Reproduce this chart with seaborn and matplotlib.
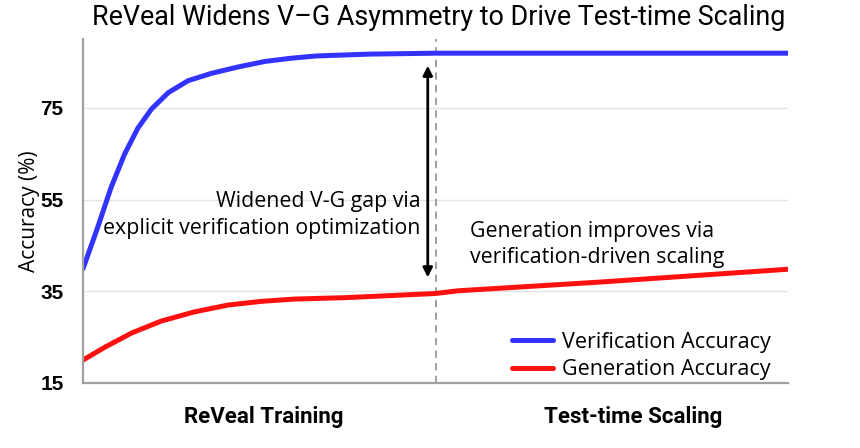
import pandas as pd
import matplotlib
matplotlib.use('Agg')
import matplotlib.pyplot as plt
import seaborn as sns

# progress along the x axis (0-5 training, 5-10 test-time scaling)
verif_x = [0, 0.21, 0.40, 0.59, 0.78, 0.97, 1.21, 1.49, 1.82, 2.20, 2.58, 2.95, 3.31, 4.07, 5.0, 10.0]
verif_y = [39.9, 49.0, 57.7, 64.9, 70.6, 74.7, 78.3, 80.9, 82.5, 83.9, 85.1, 85.8, 86.3, 86.7, 86.9, 86.9]
gen_x = [0, 0.31, 0.69, 1.11, 1.58, 2.06, 2.53, 3.00, 3.71, 4.42, 4.99, 5.32, 7.33, 10.0]
gen_y = [20.0, 22.8, 25.9, 28.5, 30.5, 32.0, 32.8, 33.3, 33.6, 34.1, 34.5, 35.1, 37.0, 39.8]

series_names = ['Verification Accuracy', 'Generation Accuracy']
series_colors = ['#3333ff', '#ff1010']
phase_labels = ['ReVeal Training', 'Test-time Scaling']
y_ticks = [15, 35, 55, 75]

df = pd.concat([
    pd.DataFrame({'x': verif_x, 'acc': verif_y, 'series': series_names[0]}),
    pd.DataFrame({'x': gen_x, 'acc': gen_y, 'series': series_names[1]}),
])

sns.set_style('white')
plt.rcParams['font.family'] = ['Roboto', 'DejaVu Sans']
plt.rcParams['text.color'] = 'black'
plt.rcParams['ytick.color'] = 'black'
plt.rcParams['axes.labelcolor'] = 'black'
body_font = ['Open Sans', 'DejaVu Sans']

fig = plt.figure(figsize=(8.6, 4.48), dpi=100)
ax = fig.add_axes([0.0965, 0.1451, 0.8198, 0.7679])

sns.lineplot(data=df, x='x', y='acc', hue='series', hue_order=series_names,
             palette=series_colors, linewidth=3.6, ax=ax, sort=True)
for line in ax.get_lines():
    line.set_solid_joinstyle('round')

ax.set_xlim(0, 10)
ax.set_ylim(15, 90)
ax.set_yticks(y_ticks)
ax.set_xticks([])
ax.yaxis.grid(True, color='#e4e4e4', linewidth=1.0)
ax.set_axisbelow(True)
for lab in ax.get_yticklabels():
    lab.set_fontfamily(['Liberation Sans', 'DejaVu Sans'])
    lab.set_fontweight('bold')
    lab.set_fontsize(15)
ax.tick_params(axis='y', length=0, pad=14)
ax.set_xlabel('')
ax.set_ylabel('Accuracy (%)', fontsize=15, labelpad=0, fontfamily=body_font)

for side in ['top', 'right']:
    ax.spines[side].set_visible(False)
for side in ['left', 'bottom']:
    ax.spines[side].set_color('#a0a0a0')
    ax.spines[side].set_linewidth(1.6)

# phase separator
ax.axvline(5, color='#999999', linestyle=(0, (4, 3)), linewidth=1.3, zorder=1)

# V-G gap arrow
ax.annotate('', xy=(4.89, 37.4), xytext=(4.89, 84.8),
            arrowprops=dict(arrowstyle='<|-|>', color='black', lw=2.0, mutation_scale=14))

ax.text(4.79, 51.6, 'Widened V-G gap via\nexplicit verification optimization',
        ha='right', va='center', fontsize=15.4, linespacing=1.35, fontfamily=body_font)
ax.text(5.49, 45.2, 'Generation improves via\nverification-driven scaling',
        ha='left', va='center', fontsize=15.4, linespacing=1.35, fontfamily=body_font)

# phase labels under the axis
ax.text(2.57, 7.6, phase_labels[0], ha='center', va='center', fontsize=16,
        fontweight='bold', clip_on=False)
ax.text(7.8, 7.6, phase_labels[1], ha='center', va='center', fontsize=16,
        fontweight='bold', clip_on=False)

handles, labels = ax.get_legend_handles_labels()
ax.legend(handles, labels, loc='lower right', bbox_to_anchor=(1.003, -0.048),
          frameon=False, handlelength=1.9, handletextpad=0.42,
          labelspacing=0.3, prop={'family': body_font, 'size': 15.5})

fig.suptitle('ReVeal Widens V\u2013G Asymmetry to Drive Test-time Scaling',
             x=0.51, y=0.99, fontsize=19.4)

fig.savefig('out.png', dpi=100)
